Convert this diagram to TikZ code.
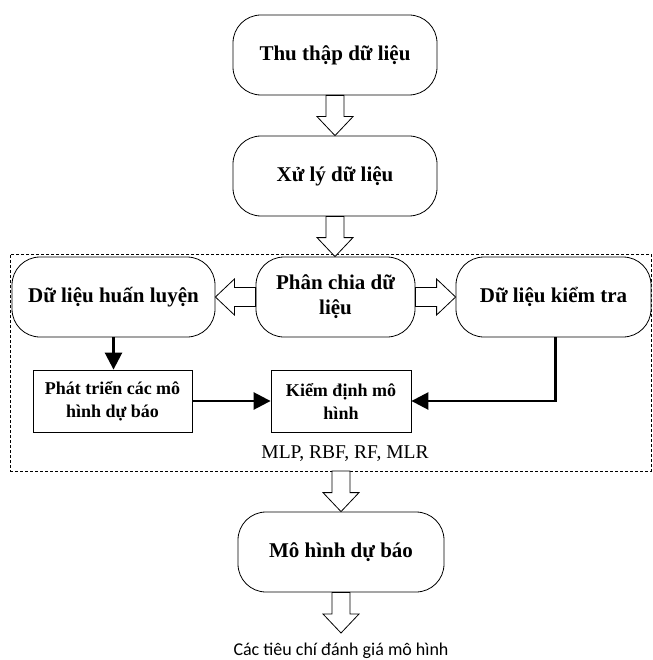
\documentclass[tikz,border=0pt]{standalone}
\usepackage{fontspec}
\setmainfont{Liberation Serif}
\newfontfamily\calibrifont{Carlito}
\usetikzlibrary{calc,arrows.meta}
\newcommand\vblk[2]{\draw[blk] let \p1=(#1), \p2=(#2) in
  ({\x1-9pt},\y1) -- ({\x1-9pt},{\y2+19pt}) -- ({\x1-18pt},{\y2+19pt}) -- (\x1,\y2)
  -- ({\x1+18pt},{\y2+19pt}) -- ({\x1+9pt},{\y2+19pt}) -- ({\x1+9pt},\y1) -- cycle;}
% #3 = +1 for rightward, -1 for leftward
\newcommand\hblk[3]{\draw[blk] let \p1=(#1), \p2=(#2) in
  (\x1,{\y1-9.5pt}) -- ({\x2-#3*19pt},{\y1-9.5pt}) -- ({\x2-#3*19pt},{\y1-18pt}) -- (\x2,\y1)
  -- ({\x2-#3*19pt},{\y1+18pt}) -- ({\x2-#3*19pt},{\y1+9.5pt}) -- (\x1,{\y1+9.5pt}) -- cycle;}
\begin{document}
\begin{tikzpicture}[x=1pt,y=-1pt,
  rbox/.style={draw, line width=0.8pt, rounded corners=28pt, minimum height=80pt,
    inner sep=0pt, align=center, fill=white, font=\bfseries\fontsize{21}{25}\selectfont},
  sbox/.style={draw, line width=0.8pt, minimum height=62pt, inner sep=0pt,
    align=center, fill=white, font=\bfseries\fontsize{18}{23}\selectfont},
  blk/.style={draw, line width=0.8pt, fill=white, line join=miter},
  flow/.style={line width=2.6pt, -{Triangle[length=17pt,width=17pt]}},
  grpbox/.style={draw, dash pattern=on 3pt off 2pt, line width=0.7pt, inner sep=0pt}
]
\useasboundingbox (0,0) rectangle (652,660);

\node[grpbox, minimum width=641pt, minimum height=217pt] (grp) at (330.5,362.5) {};

\node[rbox, minimum width=204pt] (t1) at (335,55) {Thu thập dữ liệu};
\node[rbox, minimum width=204pt] (t2) at (335,176) {Xử lý dữ liệu};
\node[rbox, minimum width=159pt] (pc) at (335.5,297) {Phân chia dữ\\liệu};
\node[rbox, minimum width=203pt] (lb) at (113.5,297) {Dữ liệu huấn luyện};
\node[rbox, minimum width=195pt] (rb) at (553.5,297) {Dữ liệu kiểm tra};
\node[sbox, minimum width=159pt] (r1) at (112.5,401) {Phát triển các mô\\hình dự báo};
\node[sbox, minimum width=140pt] (r2) at (341,401) {Kiểm định mô\\hình};
\node[anchor=base, font=\fontsize{19.5}{23}\selectfont, inner sep=0pt] (mlp) at (345,458) {MLP, RBF, RF, MLR};
\node[rbox, minimum width=206pt] (mh) at (341,552) {Mô hình dự báo};
\node[anchor=base, font=\calibrifont\fontsize{18}{22}\selectfont, inner sep=0pt] (ct) at (341,655) {Các tiêu chí đánh giá mô hình};

\coordinate (g5) at (341,471);
\coordinate (e6) at (341,633);

\vblk{t1.south}{t2.north}
\vblk{t2.south}{pc.north}
\hblk{pc.west}{lb.east}{-1}
\hblk{pc.east}{rb.west}{1}
\vblk{g5}{mh.north}
\vblk{mh.south}{e6}

\draw[flow] (lb.south) -- (lb.south |- r1.north);
\draw[flow] (r1.east) -- (r2.west);
\draw[flow] ([xshift=2pt]rb.south) |- (r2.east);
\end{tikzpicture}
\end{document}
